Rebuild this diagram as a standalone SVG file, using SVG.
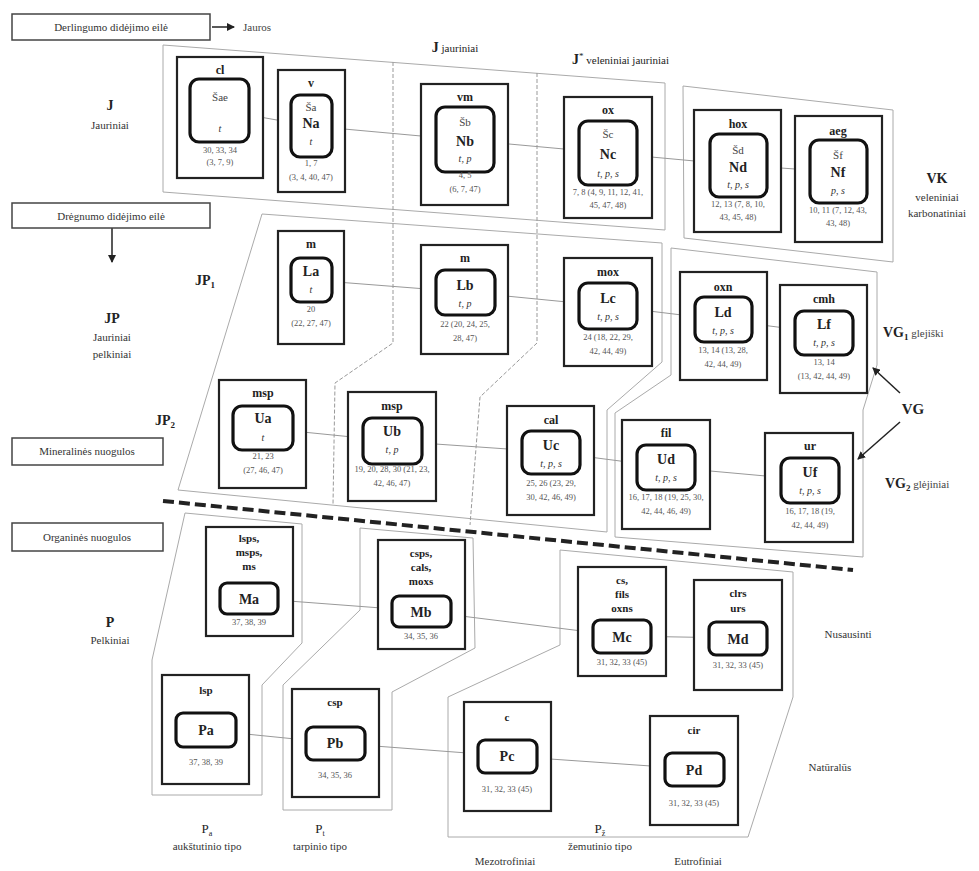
<svg xmlns="http://www.w3.org/2000/svg" width="979" height="871" viewBox="0 0 979 871">
<style>
text{font-family:"Liberation Serif","Times New Roman",serif;fill:#222}
.ob{fill:#fff;stroke:#222;stroke-width:2.2}
.ib{fill:#fff;stroke:#111;stroke-width:3.2}
.reg{fill:none;stroke:#aaa;stroke-width:1}
.div{fill:none;stroke:#999;stroke-width:1;stroke-dasharray:4 2}
.con{stroke:#999;stroke-width:1;fill:none}
.code{font-size:12px;font-weight:bold;text-anchor:middle}
.sh{font-size:11px;text-anchor:middle;fill:#444}
.nm{font-size:14px;font-weight:bold;text-anchor:middle}
.it{font-size:10px;font-style:italic;text-anchor:middle;fill:#333}
.num{font-size:8.5px;text-anchor:middle;fill:#555}
.lab{font-size:11px;text-anchor:middle;fill:#333}
.big{font-size:14px;font-weight:bold;text-anchor:middle}
.box{fill:#fff;stroke:#444;stroke-width:1.5}
.ar{stroke:#222;stroke-width:1.5;fill:none}
</style>
<defs>
<marker id="ah" markerWidth="8" markerHeight="8" refX="7" refY="4" orient="auto" markerUnits="userSpaceOnUse">
<path d="M0,0 L8,4 L0,8 Z" fill="#222"/>
</marker>
</defs>

<g id="regions">
<polygon class="reg" points="163,45 665,83 665,230 163,192"/>
<polygon class="reg" points="683,86 893,110 893,262 684,238"/>
<polygon class="reg" points="262,214 662,243 662,362 607,410 607,532 178,490"/>
<polygon class="reg" points="671,248 877,272 877,365 863,410 863,557 615,537 615,413 671,375"/>
<polyline class="div" points="393,62 393,343 335,383 333,505"/>
<polyline class="div" points="537,73 537,343 480,397 470,525"/>
<polygon class="reg" points="185,513 302,524 302,643 262,685 262,795 152,795 152,660"/>
<polygon class="reg" points="360,528 473,538 475,648 392,692 392,810 283,810 283,685 360,610"/>
<polygon class="reg" points="560,550 793,572 793,697 748,837 448,837 448,697 560,645"/>
<line x1="163" y1="501" x2="853" y2="570" stroke="#222" stroke-width="4" stroke-dasharray="11 5"/>
</g>

<g id="connectors">
<polyline class="con" points="220,110 311,126 465,140 608,153 738,165 838,172"/>
<polyline class="con" points="311,280 465,292 608,306 723,320 824,333"/>
<polyline class="con" points="263,428 392,441 551,452 666,467 810,480"/>
<polyline class="con" points="249,598 421,611 622,636 738,638"/>
<polyline class="con" points="206,730 335,743 507,756 694,769"/>
<line class="ar" x1="212" y1="27" x2="234" y2="27" marker-end="url(#ah)"/>
<line class="ar" x1="112" y1="228" x2="112" y2="262" marker-end="url(#ah)"/>
<line class="ar" x1="900" y1="393" x2="873" y2="368" marker-end="url(#ah)"/>
<line class="ar" x1="900" y1="422" x2="858" y2="459" marker-end="url(#ah)"/>
</g>

<!-- J row -->
<g id="cl">
<rect class="ob" x="177" y="57" width="86" height="121"/>
<rect class="ib" x="190" y="79" width="59" height="63" rx="9"/>
<text class="code" x="220" y="74">cl</text>
<text class="sh" x="220" y="101">Šae</text>
<text class="it" x="220" y="132">t</text>
<text class="num" x="220" y="153">30, 33, 34</text>
<text class="num" x="220" y="165">(3, 7, 9)</text>
</g>
<g id="Na">
<rect class="ob" x="278" y="70" width="67" height="122"/>
<rect class="ib" x="291" y="95" width="41" height="62" rx="9"/>
<text class="code" x="311" y="87">v</text>
<text class="sh" x="311" y="111">Ša</text>
<text class="nm" x="311" y="128">Na</text>
<text class="it" x="311" y="145">t</text>
<text class="num" x="311" y="166">1, 7</text>
<text class="num" x="311" y="180">(3, 4, 40, 47)</text>
</g>
<g id="Nb">
<rect class="ob" x="421" y="84" width="87" height="121"/>
<rect class="ib" x="436" y="107" width="58" height="65" rx="9"/>
<text class="code" x="465" y="101">vm</text>
<text class="sh" x="465" y="126">Šb</text>
<text class="nm" x="465" y="146">Nb</text>
<text class="it" x="465" y="162">t, p</text>
<text class="num" x="465" y="178">4, 5</text>
<text class="num" x="465" y="192">(6, 7, 47)</text>
</g>
<g id="Nc">
<rect class="ob" x="564" y="97" width="88" height="121"/>
<rect class="ib" x="579" y="121" width="58" height="64" rx="9"/>
<text class="code" x="608" y="114">ox</text>
<text class="sh" x="608" y="138">Šc</text>
<text class="nm" x="608" y="159">Nc</text>
<text class="it" x="608" y="177">t, p, s</text>
<text class="num" x="608" y="195">7, 8 (4, 9, 11, 12, 41,</text>
<text class="num" x="608" y="208">45, 47, 48)</text>
</g>
<g id="Nd">
<rect class="ob" x="694" y="110" width="87" height="122"/>
<rect class="ib" x="710" y="134" width="57" height="63" rx="9"/>
<text class="code" x="738" y="128">hox</text>
<text class="sh" x="738" y="154">Šd</text>
<text class="nm" x="738" y="172">Nd</text>
<text class="it" x="738" y="188">t, p, s</text>
<text class="num" x="738" y="207">12, 13 (7, 8, 10,</text>
<text class="num" x="738" y="220">43, 45, 48)</text>
</g>
<g id="Nf">
<rect class="ob" x="795" y="116" width="87" height="126"/>
<rect class="ib" x="810" y="140" width="57" height="63" rx="9"/>
<text class="code" x="838" y="135">aeg</text>
<text class="sh" x="838" y="159">Šf</text>
<text class="nm" x="838" y="177">Nf</text>
<text class="it" x="838" y="194">p, s</text>
<text class="num" x="838" y="213">10, 11 (7, 12, 43,</text>
<text class="num" x="838" y="226">43, 48)</text>
</g>

<!-- JP1 row -->
<g id="La">
<rect class="ob" x="278" y="231" width="66" height="113"/>
<rect class="ib" x="291" y="258" width="41" height="44" rx="9"/>
<text class="code" x="311" y="248">m</text>
<text class="nm" x="311" y="276">La</text>
<text class="it" x="311" y="293">t</text>
<text class="num" x="311" y="312">20</text>
<text class="num" x="311" y="326">(22, 27, 47)</text>
</g>
<g id="Lb">
<rect class="ob" x="421" y="245" width="87" height="109"/>
<rect class="ib" x="436" y="270" width="59" height="45" rx="9"/>
<text class="code" x="465" y="262">m</text>
<text class="nm" x="465" y="290">Lb</text>
<text class="it" x="465" y="307">t, p</text>
<text class="num" x="465" y="327">22 (20, 24, 25,</text>
<text class="num" x="465" y="341">28, 47)</text>
</g>
<g id="Lc">
<rect class="ob" x="564" y="258" width="88" height="108"/>
<rect class="ib" x="579" y="283" width="58" height="46" rx="9"/>
<text class="code" x="608" y="276">mox</text>
<text class="nm" x="608" y="303">Lc</text>
<text class="it" x="608" y="320">t, p, s</text>
<text class="num" x="608" y="340">24 (18, 22, 29,</text>
<text class="num" x="608" y="354">42, 44, 49)</text>
</g>
<g id="Ld">
<rect class="ob" x="680" y="272" width="87" height="108"/>
<rect class="ib" x="695" y="297" width="57" height="45" rx="9"/>
<text class="code" x="723" y="291">oxn</text>
<text class="nm" x="723" y="317">Ld</text>
<text class="it" x="723" y="334">t, p, s</text>
<text class="num" x="723" y="353">13, 14 (13, 28,</text>
<text class="num" x="723" y="367">42, 44, 49)</text>
</g>
<g id="Lf">
<rect class="ob" x="780" y="285" width="87" height="108"/>
<rect class="ib" x="795" y="311" width="58" height="44" rx="9"/>
<text class="code" x="824" y="303">cmh</text>
<text class="nm" x="824" y="329">Lf</text>
<text class="it" x="824" y="346">t, p, s</text>
<text class="num" x="824" y="365">13, 14</text>
<text class="num" x="824" y="379">(13, 42, 44, 49)</text>
</g>

<!-- JP2 row -->
<g id="Ua">
<rect class="ob" x="219" y="380" width="87" height="108"/>
<rect class="ib" x="233" y="406" width="60" height="44" rx="9"/>
<text class="code" x="263" y="397">msp</text>
<text class="nm" x="263" y="423">Ua</text>
<text class="it" x="263" y="441">t</text>
<text class="num" x="263" y="459">21, 23</text>
<text class="num" x="263" y="473">(27, 46, 47)</text>
</g>
<g id="Ub">
<rect class="ob" x="348" y="392" width="88" height="109"/>
<rect class="ib" x="363" y="418" width="59" height="46" rx="9"/>
<text class="code" x="392" y="410">msp</text>
<text class="nm" x="392" y="436">Ub</text>
<text class="it" x="392" y="453">t, p</text>
<text class="num" x="392" y="472">19, 20, 28, 30 (21, 23,</text>
<text class="num" x="392" y="486">42, 46, 47)</text>
</g>
<g id="Uc">
<rect class="ob" x="507" y="406" width="87" height="109"/>
<rect class="ib" x="522" y="431" width="58" height="43" rx="9"/>
<text class="code" x="551" y="424">cal</text>
<text class="nm" x="551" y="450">Uc</text>
<text class="it" x="551" y="467">t, p, s</text>
<text class="num" x="551" y="486">25, 26 (23, 29,</text>
<text class="num" x="551" y="500">30, 42, 46, 49)</text>
</g>
<g id="Ud">
<rect class="ob" x="622" y="420" width="88" height="109"/>
<rect class="ib" x="637" y="445" width="58" height="45" rx="9"/>
<text class="code" x="666" y="437">fil</text>
<text class="nm" x="666" y="464">Ud</text>
<text class="it" x="666" y="481">t, p, s</text>
<text class="num" x="666" y="500">16, 17, 18 (19, 25, 30,</text>
<text class="num" x="666" y="514">42, 44, 46, 49)</text>
</g>
<g id="Uf">
<rect class="ob" x="765" y="433" width="88" height="109"/>
<rect class="ib" x="781" y="458" width="58" height="45" rx="9"/>
<text class="code" x="810" y="450">ur</text>
<text class="nm" x="810" y="477">Uf</text>
<text class="it" x="810" y="494">t, p, s</text>
<text class="num" x="810" y="514">16, 17, 18 (19,</text>
<text class="num" x="810" y="528">42, 44, 49)</text>
</g>

<!-- M row -->
<g id="Ma">
<rect class="ob" x="206" y="527" width="87" height="109"/>
<rect class="ib" x="220" y="583" width="58" height="31" rx="7"/>
<text class="code" x="249" y="542" style="font-size:11px">lsps,</text>
<text class="code" x="249" y="556" style="font-size:11px">msps,</text>
<text class="code" x="249" y="570" style="font-size:11px">ms</text>
<text class="nm" x="249" y="604">Ma</text>
<text class="num" x="249" y="625">37, 38, 39</text>
</g>
<g id="Mb">
<rect class="ob" x="378" y="540" width="87" height="109"/>
<rect class="ib" x="392" y="596" width="59" height="31" rx="7"/>
<text class="code" x="421" y="557" style="font-size:11px">csps,</text>
<text class="code" x="421" y="571" style="font-size:11px">cals,</text>
<text class="code" x="421" y="585" style="font-size:11px">moxs</text>
<text class="nm" x="421" y="617">Mb</text>
<text class="num" x="421" y="639">34, 35, 36</text>
</g>
<g id="Mc">
<rect class="ob" x="578" y="567" width="88" height="109"/>
<rect class="ib" x="593" y="620" width="58" height="33" rx="7"/>
<text class="code" x="622" y="584" style="font-size:11px">cs,</text>
<text class="code" x="622" y="598" style="font-size:11px">fils</text>
<text class="code" x="622" y="612" style="font-size:11px">oxns</text>
<text class="nm" x="622" y="642">Mc</text>
<text class="num" x="622" y="665">31, 32, 33 (45)</text>
</g>
<g id="Md">
<rect class="ob" x="694" y="580" width="88" height="110"/>
<rect class="ib" x="709" y="622" width="58" height="33" rx="7"/>
<text class="code" x="738" y="597" style="font-size:11px">clrs</text>
<text class="code" x="738" y="612" style="font-size:11px">urs</text>
<text class="nm" x="738" y="644">Md</text>
<text class="num" x="738" y="668">31, 32, 33 (45)</text>
</g>

<!-- P row -->
<g id="Pa">
<rect class="ob" x="162" y="675" width="87" height="109"/>
<rect class="ib" x="176" y="713" width="60" height="34" rx="7"/>
<text class="code" x="206" y="694" style="font-size:11px">lsp</text>
<text class="nm" x="206" y="735">Pa</text>
<text class="num" x="206" y="765">37, 38, 39</text>
</g>
<g id="Pb">
<rect class="ob" x="292" y="689" width="87" height="108"/>
<rect class="ib" x="306" y="727" width="59" height="33" rx="7"/>
<text class="code" x="335" y="706" style="font-size:11px">csp</text>
<text class="nm" x="335" y="748">Pb</text>
<text class="num" x="335" y="778">34, 35, 36</text>
</g>
<g id="Pc">
<rect class="ob" x="464" y="702" width="87" height="109"/>
<rect class="ib" x="478" y="740" width="59" height="33" rx="7"/>
<text class="code" x="507" y="721" style="font-size:11px">c</text>
<text class="nm" x="507" y="761">Pc</text>
<text class="num" x="507" y="792">31, 32, 33 (45)</text>
</g>
<g id="Pd">
<rect class="ob" x="650" y="716" width="88" height="109"/>
<rect class="ib" x="665" y="753" width="59" height="33" rx="7"/>
<text class="code" x="694" y="734" style="font-size:11px">cir</text>
<text class="nm" x="694" y="775">Pd</text>
<text class="num" x="694" y="806">31, 32, 33 (45)</text>
</g>

<g id="labels">
<rect class="box" x="12" y="14" width="198" height="26"/>
<text class="lab" x="111" y="31">Derlingumo didėjimo eilė</text>
<text x="243" y="31" style="font-size:11px;fill:#444">Jauros</text>
<rect class="box" x="12" y="203" width="198" height="25"/>
<text class="lab" x="111" y="220">Drėgnumo didėjimo eilė</text>
<rect class="box" x="12" y="438" width="151" height="27"/>
<text class="lab" x="87" y="455">Mineralinės nuogulos</text>
<rect class="box" x="12" y="523" width="151" height="28"/>
<text class="lab" x="87" y="541">Organinės nuogulos</text>

<text class="big" x="110" y="110">J</text>
<text class="lab" x="110" y="129">Jauriniai</text>
<text x="455" y="52" style="font-size:11px;text-anchor:middle"><tspan style="font-size:14px;font-weight:bold">J</tspan> jauriniai</text>
<text x="572" y="64" style="font-size:11px"><tspan style="font-size:14px;font-weight:bold">J</tspan><tspan style="font-size:9px" dy="-5">*</tspan><tspan dy="5"> veleniniai jauriniai</tspan></text>
<text class="big" x="937" y="183">VK</text>
<text class="lab" x="937" y="201">veleniniai</text>
<text class="lab" x="937" y="217">karbonatiniai</text>

<text class="big" x="112" y="323">JP</text>
<text class="lab" x="112" y="341">Jauriniai</text>
<text class="lab" x="112" y="358">pelkiniai</text>
<text x="195" y="285" style="font-size:14px;font-weight:bold">JP<tspan style="font-size:9px" dy="3">1</tspan></text>
<text x="155" y="425" style="font-size:14px;font-weight:bold">JP<tspan style="font-size:9px" dy="3">2</tspan></text>

<text x="883" y="337" style="font-size:14px;font-weight:bold">VG<tspan style="font-size:9px" dy="3">1</tspan><tspan style="font-size:11px;font-weight:normal;fill:#444" dy="-3"> glejiški</tspan></text>
<text class="big" x="913" y="414" style="font-size:15px">VG</text>
<text x="885" y="488" style="font-size:14px;font-weight:bold">VG<tspan style="font-size:9px" dy="3">2</tspan><tspan style="font-size:11px;font-weight:normal;fill:#444" dy="-3"> glėjiniai</tspan></text>

<text class="big" x="110" y="627">P</text>
<text class="lab" x="110" y="644">Pelkiniai</text>
<text class="lab" x="848" y="638">Nusausinti</text>
<text class="lab" x="830" y="771">Natūralūs</text>

<text x="207" y="833" style="font-size:13px;text-anchor:middle">P<tspan style="font-size:8px" dy="3">a</tspan></text>
<text class="lab" x="207" y="850">aukštutinio tipo</text>
<text x="320" y="833" style="font-size:13px;text-anchor:middle">P<tspan style="font-size:8px" dy="3">t</tspan></text>
<text class="lab" x="320" y="850">tarpinio tipo</text>
<text x="600" y="833" style="font-size:13px;text-anchor:middle">P<tspan style="font-size:8px" dy="3">ž</tspan></text>
<text class="lab" x="600" y="850">žemutinio tipo</text>
<text class="lab" x="505" y="865">Mezotrofiniai</text>
<text class="lab" x="698" y="865">Eutrofiniai</text>
</g>
</svg>
